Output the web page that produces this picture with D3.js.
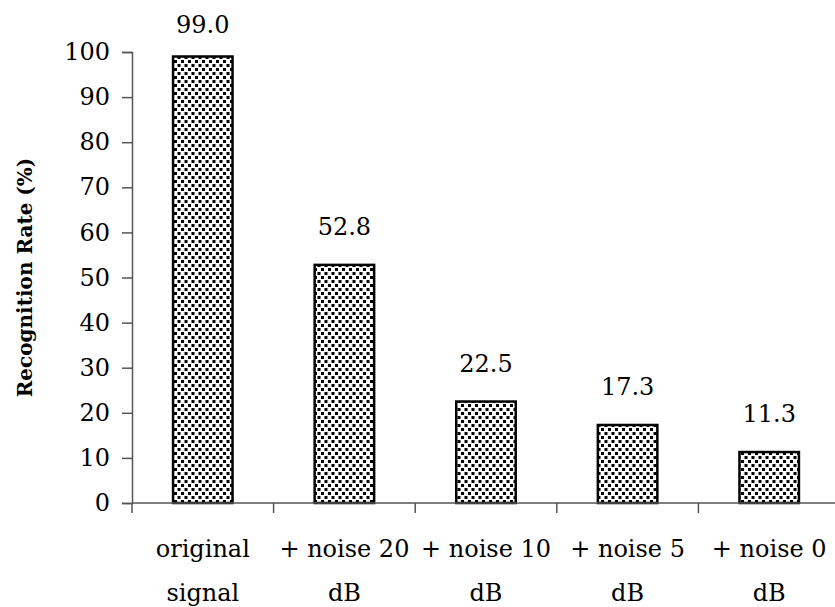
<!DOCTYPE html>
<html>
<head>
<meta charset="utf-8">
<script src="https://cdn.jsdelivr.net/npm/d3@7"></script>
<style>
  body { margin: 0; background: #fff; }
  svg text { font-family: "DejaVu Serif", "Liberation Serif", serif; }
</style>
</head>
<body>
<svg width="835" height="607"></svg>
<script>
const categories = ['original signal', '+ noise 20 dB', '+ noise 10 dB', '+ noise 5 dB', '+ noise 0 dB']
const labelLines = [['original', 'signal'], ['+ noise 20', 'dB'], ['+ noise 10', 'dB'], ['+ noise 5', 'dB'], ['+ noise 0', 'dB']]
const rates = [99.0, 52.8, 22.5, 17.3, 11.3]
const yTicks = [0, 10, 20, 30, 40, 50, 60, 70, 80, 90, 100]

const svg = d3.select('svg')
const margin = { top: 52, left: 132, bottom: 104, right: -5 }
const width = 835 - margin.left - margin.right
const height = 607 - margin.top - margin.bottom
const fs = 24

const x = d3.scaleBand().domain(categories).range([0, width]).paddingInner(0.58).paddingOuter(0.29)
const y = d3.scaleLinear().domain([0, 100]).range([height, 0])

// dotted fill like the old spreadsheet pattern
const defs = svg.append('defs')
const pat = defs.append('pattern')
    .attr('id', 'dots')
    .attr('patternUnits', 'userSpaceOnUse')
    .attr('width', 7).attr('height', 8)
pat.append('rect').attr('width', 7).attr('height', 8).attr('fill', '#fff')
pat.append('rect').attr('x', 0).attr('y', 0).attr('width', 3).attr('height', 3).attr('fill', '#000')
pat.append('rect').attr('x', 3.5).attr('y', 4).attr('width', 3).attr('height', 3).attr('fill', '#000')

const g = svg.append('g').attr('transform', `translate(${margin.left},${margin.top})`)

g.selectAll('.bar')
    .data(rates)
    .enter().append('rect')
    .attr('class', 'bar')
    .attr('x', (d, i) => x(categories[i]))
    .attr('y', d => y(d))
    .attr('width', x.bandwidth())
    .attr('height', d => height - y(d))
    .attr('fill', 'url(#dots)')
    .attr('stroke', '#000')
    .attr('stroke-width', 2.5)

g.selectAll('.val')
    .data(rates)
    .enter().append('text')
    .attr('class', 'val')
    .attr('x', (d, i) => x(categories[i]) + x.bandwidth() / 2)
    .attr('y', d => Math.max(y(d) - 30, 33 - margin.top))
    .attr('text-anchor', 'middle')
    .attr('font-size', fs)
    .text(d => d.toFixed(1))

// y axis
const yAxis = g.append('g')
    .call(d3.axisLeft(y).tickValues(yTicks).tickSize(10).tickPadding(12))
yAxis.attr('font-family', null).attr('font-size', null)
yAxis.select('.domain').attr('stroke', '#555').attr('stroke-width', 1.5)
yAxis.selectAll('.tick line').attr('stroke', '#555').attr('stroke-width', 1.5)
yAxis.selectAll('.tick text')
    .attr('font-size', fs).attr('fill', '#000')

// x axis line and boundary ticks
const xAxisG = g.append('g').attr('transform', `translate(0,${height})`)
xAxisG.append('line')
    .attr('x1', 0).attr('x2', width)
    .attr('stroke', '#555').attr('stroke-width', 1.5)
const step = x.step()
xAxisG.selectAll('.bt')
    .data(d3.range(categories.length))
    .enter().append('line')
    .attr('x1', i => x(categories[i]) - x.paddingOuter() * step)
    .attr('x2', i => x(categories[i]) - x.paddingOuter() * step)
    .attr('y1', 0).attr('y2', 10)
    .attr('stroke', '#555').attr('stroke-width', 1.5)

const cl = xAxisG.selectAll('.cat')
    .data(labelLines)
    .enter().append('text')
    .attr('class', 'cat')
    .attr('text-anchor', 'middle')
    .attr('font-size', fs)
    .attr('transform', (d, i) => `translate(${x(categories[i]) + x.bandwidth() / 2},0)`)
cl.selectAll('tspan')
    .data(d => d)
    .enter().append('tspan')
    .attr('x', 0)
    .attr('y', (d, j) => 54 + j * 44)
    .text(d => d)

svg.append('text')
    .attr('transform', `translate(32,${margin.top + height / 2}) rotate(-90)`)
    .attr('text-anchor', 'middle')
    .attr('font-size', 20)
    .attr('font-weight', 'bold')
    .text('Recognition Rate (%)')
</script>
</body>
</html>
